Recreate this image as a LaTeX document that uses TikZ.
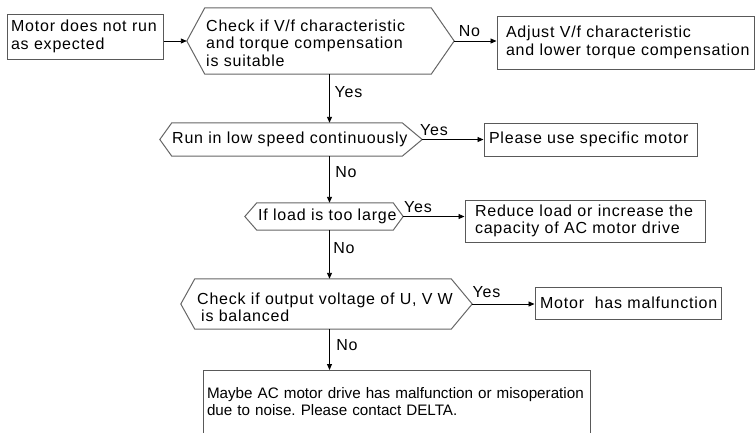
\documentclass[tikz,border=0pt]{standalone}
\usepackage{fontspec}
\setmainfont{Liberation Sans}[LetterSpace=5]
\newfontfamily\tightfont{Liberation Sans}[LetterSpace=0]
\frenchspacing
\usetikzlibrary{arrows.meta}
\begin{document}
\begin{tikzpicture}[x=1pt,y=-1pt,
  every node/.style={font=\fontsize{16}{17.5}\selectfont, text=black},
  box/.style={draw=black!65, line width=1pt, align=left, inner ysep=0pt},
  hexn/.style={inner sep=0pt, draw=none},
  hexline/.style={draw=black!60, line width=1pt, line join=miter},
  txt/.style={align=left, inner sep=0pt, anchor=west},
  lbl/.style={inner sep=0pt},
  arr/.style={line width=0.9pt, -{Triangle[length=6pt,width=5pt]}},
  ]
\useasboundingbox (0,0) rectangle (756,432);
\coordinate (spine) at (329.5,0);

% boxes
\node[box, minimum width=156pt, minimum height=45pt, text width=148pt, inner xsep=4pt] (b1) at (85,36.5) {\mbox{Motor does not run}\\\mbox{as expected}};
\node[box, minimum width=257pt, minimum height=53pt, text width=239pt, inner xsep=9pt] (b2) at (625.5,42.5) {\mbox{Adjust V/f characteristic}\\\mbox{and lower torque compensation}};
\node[box, minimum width=213pt, minimum height=33pt, text width=203pt, inner xsep=5pt] (b3) at (590.5,139.5) {\mbox{Please use specific motor}};
\node[box, minimum width=240pt, minimum height=42pt, text width=220pt, inner xsep=10pt] (b4) at (585,221) {\mbox{Reduce load or increase the}\\\mbox{capacity of AC motor drive}};
\node[box, minimum width=186pt, minimum height=32pt, text width=176pt, inner xsep=5pt] (b5) at (628,303) {\mbox{Motor\ \ has malfunction}};
\node[box, draw=none, minimum width=386pt, minimum height=62pt, text width=380pt, inner xsep=3pt, anchor=north, font=\tightfont\fontsize{15.2}{17.5}\selectfont] (b6) at (397,370) {\mbox{Maybe AC motor drive has malfunction or misoperation}\\\mbox{due to noise. Please contact DELTA.}};
\draw[draw=black!65, line width=1pt] (b6.south west) -- (b6.north west) -- (b6.north east) -- (b6.south east);

% hexagons
\node[hexn, minimum width=267pt, minimum height=66pt] (h1) at (320.5,41) {};
\draw[hexline] (h1.west) -- ([xshift=18pt]h1.north west) -- ([xshift=-23pt]h1.north east) -- (h1.east) -- ([xshift=-23pt]h1.south east) -- ([xshift=18pt]h1.south west) -- cycle;
\node[txt] (t1) at (206,43) {Check if V/f characteristic\\and torque compensation\\is suitable};

\node[hexn, minimum width=262pt, minimum height=33pt] (h2) at (291,139.5) {};
\draw[hexline] (h2.west) -- ([xshift=12pt]h2.north west) -- ([xshift=-20pt]h2.north east) -- (h2.east) -- ([xshift=-20pt]h2.south east) -- ([xshift=12pt]h2.south west) -- cycle;
\node[txt] (t2) at (172,139.5) {Run in low speed continuously};

\node[hexn, minimum width=158pt, minimum height=27pt] (h3) at (324,216.5) {};
\draw[hexline] (h3.west) -- ([xshift=12pt]h3.north west) -- ([xshift=-10pt]h3.north east) -- (h3.east) -- ([xshift=-10pt]h3.south east) -- ([xshift=12pt]h3.south west) -- cycle;
\node[txt] (t3) at (258,216.5) {If load is too large};

\node[hexn, minimum width=291pt, minimum height=50pt] (h4) at (326.5,304) {};
\draw[hexline] (h4.west) -- ([xshift=14pt]h4.north west) -- ([xshift=-21pt]h4.north east) -- (h4.east) -- ([xshift=-21pt]h4.south east) -- ([xshift=14pt]h4.south west) -- cycle;
\node[txt] (t4) at (197,307.5) {Check if output voltage of U, V W\\\hspace*{4pt}is balanced};

% connectors
\draw[arr] (b1.east |- h1.west) -- (h1.west);
\draw[arr] (h1.east) -- (b2.west |- h1.east);
\draw[arr] (h1.south -| spine) -- (h2.north -| spine);
\draw[arr] (h2.east) -- (b3.west |- h2.east);
\draw[arr] (h2.south -| spine) -- (h3.north -| spine);
\draw[arr] (h3.east) -- (b4.west |- h3.east);
\draw[arr] (h3.south -| spine) -- (h4.north -| spine);
\draw[arr] (h4.east) -- (b5.west |- h4.east);
\draw[arr] (h4.south -| spine) -- (b6.north -| spine);

% labels
\node[lbl] (l1) at (469.5,31) {No};
\node[lbl] (l2) at (348.5,92) {Yes};
\node[lbl] (l3) at (434,130) {Yes};
\node[lbl] (l4) at (346,172) {No};
\node[lbl] (l5) at (418,207) {Yes};
\node[lbl] (l6) at (344,248) {No};
\node[lbl] (l7) at (486.5,292) {Yes};
\node[lbl] (l8) at (347,345) {No};
\end{tikzpicture}
\end{document}
